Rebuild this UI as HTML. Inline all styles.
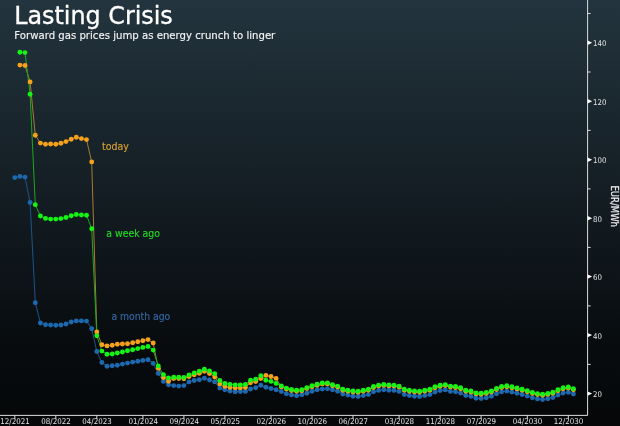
<!DOCTYPE html>
<html><head><meta charset="utf-8"><title>Lasting Crisis</title>
<style>
html,body{margin:0;padding:0;background:#0a0a0d;}
body{width:620px;height:426px;overflow:hidden;position:relative;font-family:"DejaVu Sans Condensed","DejaVu Sans","Liberation Sans",sans-serif;}
#chart{position:absolute;left:0;top:0;width:620px;height:426px;background:linear-gradient(180deg,#23343e 0%,#080c0f 80%,#050708 100%);}
h1{position:absolute;left:14px;top:0px;margin:0;font-weight:normal;font-family:"DejaVu Sans","Liberation Sans",sans-serif;font-size:23.5px;line-height:32px;color:#fff;white-space:nowrap;}
p.sub{position:absolute;left:14px;top:28px;margin:0;font-family:"DejaVu Sans","Liberation Sans",sans-serif;font-size:10.15px;line-height:14px;color:#e8e8e8;white-space:nowrap;}
svg{position:absolute;left:0;top:0;}
.tk{font-size:7.8px;fill:#e4e4e4;}
.tx{font-size:7.9px;fill:#e4e4e4;}
.lb{font-size:10.5px;}
</style></head><body>
<div id="chart">
<svg width="620" height="426" viewBox="0 0 620 426" font-family="'DejaVu Sans Condensed','DejaVu Sans','Liberation Sans',sans-serif">
<defs><filter id="soft" x="-5%" y="-5%" width="110%" height="110%"><feGaussianBlur stdDeviation="0.35"/></filter></defs><g filter="url(#soft)"><polyline points="14.8,177.6 19.9,176.4 25.0,177.1 30.1,202.5 35.3,302.8 40.4,323.0 45.5,324.7 50.6,325.0 55.8,325.3 60.9,325.0 66.0,324.0 71.2,322.0 76.3,320.9 81.4,320.9 86.5,321.1 91.7,328.7 96.8,351.5 101.9,362.5 107.0,366.3 112.2,365.8 117.3,365.2 122.4,364.1 127.5,363.1 132.7,362.1 137.8,361.3 142.9,360.4 148.0,359.7 153.2,363.4 158.3,373.4 163.4,381.4 168.5,384.8 173.7,385.6 178.8,386.1 183.9,385.6 189.0,381.9 194.2,380.5 199.3,379.7 204.4,378.2 209.5,380.0 214.7,381.9 219.8,388.1 224.9,389.8 230.0,391.0 235.2,391.7 240.3,391.5 245.4,391.4 250.5,389.0 255.7,387.8 260.8,385.3 265.9,387.3 271.0,388.5 276.1,389.8 281.3,391.5 286.4,393.7 291.5,394.9 296.6,395.8 301.8,394.7 306.9,393.2 312.0,391.2 317.1,389.8 322.3,389.0 327.4,388.7 332.5,389.8 337.6,391.2 342.8,394.1 347.9,395.1 353.0,396.3 358.1,396.5 363.3,395.6 368.4,394.6 373.5,391.8 378.6,390.4 383.8,389.7 388.9,390.2 394.0,390.4 399.1,391.4 404.3,394.6 409.4,395.5 414.5,396.2 419.6,396.5 424.8,395.6 429.9,394.6 435.0,392.1 440.1,390.5 445.3,389.9 450.4,391.4 455.5,391.8 460.6,393.1 465.8,395.5 470.9,396.3 476.0,398.2 481.1,398.5 486.3,397.7 491.4,396.3 496.5,393.8 501.6,391.8 506.8,391.1 511.9,392.1 517.0,393.2 522.1,394.5 527.3,396.1 532.4,397.7 537.5,398.9 542.6,399.5 547.8,398.7 552.9,397.5 558.0,395.1 563.1,393.1 568.3,392.3 573.4,394.0" fill="none" stroke="#1e5388" stroke-width="1"/>
<polyline points="19.9,65.1 25.0,65.5 30.1,81.9 35.3,135.2 40.4,143.1 45.5,144.3 50.6,144.0 55.8,144.3 60.9,143.3 66.0,141.6 71.2,139.3 76.3,137.2 81.4,138.6 86.5,139.6 91.7,161.9 96.8,332.0 101.9,344.7 107.0,345.9 112.2,345.2 117.3,344.3 122.4,344.0 127.5,343.8 132.7,342.8 137.8,341.8 142.9,340.8 148.0,339.6 153.2,343.0 158.3,368.3 163.4,377.6 168.5,381.3 173.7,378.5 178.8,378.5 183.9,378.7 189.0,376.5 194.2,374.7 199.3,373.2 204.4,371.2 209.5,373.6 214.7,377.0 219.8,383.9 224.9,386.4 230.0,387.4 235.2,387.9 240.3,387.9 245.4,387.5 250.5,382.7 255.7,381.5 260.8,378.6 265.9,375.4 271.0,376.5 276.1,378.4 281.3,386.9 286.4,389.1 291.5,390.5 296.6,391.3 301.8,390.7 306.9,388.6 312.0,386.8 317.1,385.3 322.3,383.9 327.4,383.9 332.5,385.8 337.6,387.1 342.8,390.3 347.9,391.2 353.0,392.0 358.1,392.2 363.3,391.3 368.4,390.3 373.5,387.5 378.6,386.1 383.8,385.4 388.9,385.9 394.0,386.1 399.1,387.1 404.3,390.3 409.4,391.2 414.5,391.9 419.6,392.2 424.8,391.3 429.9,390.3 435.0,387.8 440.1,386.2 445.3,385.6 450.4,387.1 455.5,387.5 460.6,388.8 465.8,391.2 470.9,392.0 476.0,393.9 481.1,394.2 486.3,393.4 491.4,392.0 496.5,389.5 501.6,387.5 506.8,386.8 511.9,387.8 517.0,388.9 522.1,390.2 527.3,391.8 532.4,393.4 537.5,394.6 542.6,395.2 547.8,394.4 552.9,393.2 558.0,390.8 563.1,388.8 568.3,388.0 573.4,389.7" fill="none" stroke="#a87a34" stroke-width="1"/>
<polyline points="19.9,52.3 25.0,52.6 30.1,94.2 35.3,204.7 40.4,216.0 45.5,218.4 50.6,219.1 55.8,219.1 60.9,218.6 66.0,217.5 71.2,215.7 76.3,214.5 81.4,215.0 86.5,215.2 91.7,228.7 96.8,335.7 101.9,351.1 107.0,354.3 112.2,354.0 117.3,353.0 122.4,352.0 127.5,350.8 132.7,349.8 137.8,348.6 142.9,347.4 148.0,346.5 153.2,350.1 158.3,366.0 163.4,374.6 168.5,378.0 173.7,377.3 178.8,377.3 183.9,377.5 189.0,374.9 194.2,372.9 199.3,371.2 204.4,369.2 209.5,370.9 214.7,373.8 219.8,380.5 224.9,383.4 230.0,384.4 235.2,384.9 240.3,384.9 245.4,384.4 250.5,380.2 255.7,379.3 260.8,375.8 265.9,380.2 271.0,381.4 276.1,383.4 281.3,385.9 286.4,388.1 291.5,389.5 296.6,390.3 301.8,389.7 306.9,387.6 312.0,385.8 317.1,384.3 322.3,382.9 327.4,382.9 332.5,384.8 337.6,386.1 342.8,389.3 347.9,390.2 353.0,391.0 358.1,391.2 363.3,390.3 368.4,389.3 373.5,386.5 378.6,385.1 383.8,384.4 388.9,384.9 394.0,385.1 399.1,386.1 404.3,389.3 409.4,390.2 414.5,390.9 419.6,391.2 424.8,390.3 429.9,389.3 435.0,386.8 440.1,385.2 445.3,384.6 450.4,386.1 455.5,386.5 460.6,387.8 465.8,390.2 470.9,391.0 476.0,392.9 481.1,393.2 486.3,392.4 491.4,391.0 496.5,388.5 501.6,386.5 506.8,385.8 511.9,386.8 517.0,387.9 522.1,389.2 527.3,390.8 532.4,392.4 537.5,393.6 542.6,394.2 547.8,393.4 552.9,392.2 558.0,389.8 563.1,387.8 568.3,387.0 573.4,388.7" fill="none" stroke="#1ea81e" stroke-width="1"/>
<g fill="#1b69b0"><circle cx="14.8" cy="177.6" r="2.45"/><circle cx="19.9" cy="176.4" r="2.45"/><circle cx="25.0" cy="177.1" r="2.45"/><circle cx="30.1" cy="202.5" r="2.45"/><circle cx="35.3" cy="302.8" r="2.45"/><circle cx="40.4" cy="323.0" r="2.45"/><circle cx="45.5" cy="324.7" r="2.45"/><circle cx="50.6" cy="325.0" r="2.45"/><circle cx="55.8" cy="325.3" r="2.45"/><circle cx="60.9" cy="325.0" r="2.45"/><circle cx="66.0" cy="324.0" r="2.45"/><circle cx="71.2" cy="322.0" r="2.45"/><circle cx="76.3" cy="320.9" r="2.45"/><circle cx="81.4" cy="320.9" r="2.45"/><circle cx="86.5" cy="321.1" r="2.45"/><circle cx="91.7" cy="328.7" r="2.45"/><circle cx="96.8" cy="351.5" r="2.45"/><circle cx="101.9" cy="362.5" r="2.45"/><circle cx="107.0" cy="366.3" r="2.45"/><circle cx="112.2" cy="365.8" r="2.45"/><circle cx="117.3" cy="365.2" r="2.45"/><circle cx="122.4" cy="364.1" r="2.45"/><circle cx="127.5" cy="363.1" r="2.45"/><circle cx="132.7" cy="362.1" r="2.45"/><circle cx="137.8" cy="361.3" r="2.45"/><circle cx="142.9" cy="360.4" r="2.45"/><circle cx="148.0" cy="359.7" r="2.45"/><circle cx="153.2" cy="363.4" r="2.45"/><circle cx="158.3" cy="373.4" r="2.45"/><circle cx="163.4" cy="381.4" r="2.45"/><circle cx="168.5" cy="384.8" r="2.45"/><circle cx="173.7" cy="385.6" r="2.45"/><circle cx="178.8" cy="386.1" r="2.45"/><circle cx="183.9" cy="385.6" r="2.45"/><circle cx="189.0" cy="381.9" r="2.45"/><circle cx="194.2" cy="380.5" r="2.45"/><circle cx="199.3" cy="379.7" r="2.45"/><circle cx="204.4" cy="378.2" r="2.45"/><circle cx="209.5" cy="380.0" r="2.45"/><circle cx="214.7" cy="381.9" r="2.45"/><circle cx="219.8" cy="388.1" r="2.45"/><circle cx="224.9" cy="389.8" r="2.45"/><circle cx="230.0" cy="391.0" r="2.45"/><circle cx="235.2" cy="391.7" r="2.45"/><circle cx="240.3" cy="391.5" r="2.45"/><circle cx="245.4" cy="391.4" r="2.45"/><circle cx="250.5" cy="389.0" r="2.45"/><circle cx="255.7" cy="387.8" r="2.45"/><circle cx="260.8" cy="385.3" r="2.45"/><circle cx="265.9" cy="387.3" r="2.45"/><circle cx="271.0" cy="388.5" r="2.45"/><circle cx="276.1" cy="389.8" r="2.45"/><circle cx="281.3" cy="391.5" r="2.45"/><circle cx="286.4" cy="393.7" r="2.45"/><circle cx="291.5" cy="394.9" r="2.45"/><circle cx="296.6" cy="395.8" r="2.45"/><circle cx="301.8" cy="394.7" r="2.45"/><circle cx="306.9" cy="393.2" r="2.45"/><circle cx="312.0" cy="391.2" r="2.45"/><circle cx="317.1" cy="389.8" r="2.45"/><circle cx="322.3" cy="389.0" r="2.45"/><circle cx="327.4" cy="388.7" r="2.45"/><circle cx="332.5" cy="389.8" r="2.45"/><circle cx="337.6" cy="391.2" r="2.45"/><circle cx="342.8" cy="394.1" r="2.45"/><circle cx="347.9" cy="395.1" r="2.45"/><circle cx="353.0" cy="396.3" r="2.45"/><circle cx="358.1" cy="396.5" r="2.45"/><circle cx="363.3" cy="395.6" r="2.45"/><circle cx="368.4" cy="394.6" r="2.45"/><circle cx="373.5" cy="391.8" r="2.45"/><circle cx="378.6" cy="390.4" r="2.45"/><circle cx="383.8" cy="389.7" r="2.45"/><circle cx="388.9" cy="390.2" r="2.45"/><circle cx="394.0" cy="390.4" r="2.45"/><circle cx="399.1" cy="391.4" r="2.45"/><circle cx="404.3" cy="394.6" r="2.45"/><circle cx="409.4" cy="395.5" r="2.45"/><circle cx="414.5" cy="396.2" r="2.45"/><circle cx="419.6" cy="396.5" r="2.45"/><circle cx="424.8" cy="395.6" r="2.45"/><circle cx="429.9" cy="394.6" r="2.45"/><circle cx="435.0" cy="392.1" r="2.45"/><circle cx="440.1" cy="390.5" r="2.45"/><circle cx="445.3" cy="389.9" r="2.45"/><circle cx="450.4" cy="391.4" r="2.45"/><circle cx="455.5" cy="391.8" r="2.45"/><circle cx="460.6" cy="393.1" r="2.45"/><circle cx="465.8" cy="395.5" r="2.45"/><circle cx="470.9" cy="396.3" r="2.45"/><circle cx="476.0" cy="398.2" r="2.45"/><circle cx="481.1" cy="398.5" r="2.45"/><circle cx="486.3" cy="397.7" r="2.45"/><circle cx="491.4" cy="396.3" r="2.45"/><circle cx="496.5" cy="393.8" r="2.45"/><circle cx="501.6" cy="391.8" r="2.45"/><circle cx="506.8" cy="391.1" r="2.45"/><circle cx="511.9" cy="392.1" r="2.45"/><circle cx="517.0" cy="393.2" r="2.45"/><circle cx="522.1" cy="394.5" r="2.45"/><circle cx="527.3" cy="396.1" r="2.45"/><circle cx="532.4" cy="397.7" r="2.45"/><circle cx="537.5" cy="398.9" r="2.45"/><circle cx="542.6" cy="399.5" r="2.45"/><circle cx="547.8" cy="398.7" r="2.45"/><circle cx="552.9" cy="397.5" r="2.45"/><circle cx="558.0" cy="395.1" r="2.45"/><circle cx="563.1" cy="393.1" r="2.45"/><circle cx="568.3" cy="392.3" r="2.45"/><circle cx="573.4" cy="394.0" r="2.45"/></g>
<g fill="#f7a11a"><circle cx="19.9" cy="65.1" r="2.45"/><circle cx="25.0" cy="65.5" r="2.45"/><circle cx="30.1" cy="81.9" r="2.45"/><circle cx="35.3" cy="135.2" r="2.45"/><circle cx="40.4" cy="143.1" r="2.45"/><circle cx="45.5" cy="144.3" r="2.45"/><circle cx="50.6" cy="144.0" r="2.45"/><circle cx="55.8" cy="144.3" r="2.45"/><circle cx="60.9" cy="143.3" r="2.45"/><circle cx="66.0" cy="141.6" r="2.45"/><circle cx="71.2" cy="139.3" r="2.45"/><circle cx="76.3" cy="137.2" r="2.45"/><circle cx="81.4" cy="138.6" r="2.45"/><circle cx="86.5" cy="139.6" r="2.45"/><circle cx="91.7" cy="161.9" r="2.45"/><circle cx="96.8" cy="332.0" r="2.45"/><circle cx="101.9" cy="344.7" r="2.45"/><circle cx="107.0" cy="345.9" r="2.45"/><circle cx="112.2" cy="345.2" r="2.45"/><circle cx="117.3" cy="344.3" r="2.45"/><circle cx="122.4" cy="344.0" r="2.45"/><circle cx="127.5" cy="343.8" r="2.45"/><circle cx="132.7" cy="342.8" r="2.45"/><circle cx="137.8" cy="341.8" r="2.45"/><circle cx="142.9" cy="340.8" r="2.45"/><circle cx="148.0" cy="339.6" r="2.45"/><circle cx="153.2" cy="343.0" r="2.45"/><circle cx="158.3" cy="368.3" r="2.45"/><circle cx="163.4" cy="377.6" r="2.45"/><circle cx="168.5" cy="381.3" r="2.45"/><circle cx="173.7" cy="378.5" r="2.45"/><circle cx="178.8" cy="378.5" r="2.45"/><circle cx="183.9" cy="378.7" r="2.45"/><circle cx="189.0" cy="376.5" r="2.45"/><circle cx="194.2" cy="374.7" r="2.45"/><circle cx="199.3" cy="373.2" r="2.45"/><circle cx="204.4" cy="371.2" r="2.45"/><circle cx="209.5" cy="373.6" r="2.45"/><circle cx="214.7" cy="377.0" r="2.45"/><circle cx="219.8" cy="383.9" r="2.45"/><circle cx="224.9" cy="386.4" r="2.45"/><circle cx="230.0" cy="387.4" r="2.45"/><circle cx="235.2" cy="387.9" r="2.45"/><circle cx="240.3" cy="387.9" r="2.45"/><circle cx="245.4" cy="387.5" r="2.45"/><circle cx="250.5" cy="382.7" r="2.45"/><circle cx="255.7" cy="381.5" r="2.45"/><circle cx="260.8" cy="378.6" r="2.45"/><circle cx="265.9" cy="375.4" r="2.45"/><circle cx="271.0" cy="376.5" r="2.45"/><circle cx="276.1" cy="378.4" r="2.45"/><circle cx="281.3" cy="386.9" r="2.45"/><circle cx="286.4" cy="389.1" r="2.45"/><circle cx="291.5" cy="390.5" r="2.45"/><circle cx="296.6" cy="391.3" r="2.45"/><circle cx="301.8" cy="390.7" r="2.45"/><circle cx="306.9" cy="388.6" r="2.45"/><circle cx="312.0" cy="386.8" r="2.45"/><circle cx="317.1" cy="385.3" r="2.45"/><circle cx="322.3" cy="383.9" r="2.45"/><circle cx="327.4" cy="383.9" r="2.45"/><circle cx="332.5" cy="385.8" r="2.45"/><circle cx="337.6" cy="387.1" r="2.45"/><circle cx="342.8" cy="390.3" r="2.45"/><circle cx="347.9" cy="391.2" r="2.45"/><circle cx="353.0" cy="392.0" r="2.45"/><circle cx="358.1" cy="392.2" r="2.45"/><circle cx="363.3" cy="391.3" r="2.45"/><circle cx="368.4" cy="390.3" r="2.45"/><circle cx="373.5" cy="387.5" r="2.45"/><circle cx="378.6" cy="386.1" r="2.45"/><circle cx="383.8" cy="385.4" r="2.45"/><circle cx="388.9" cy="385.9" r="2.45"/><circle cx="394.0" cy="386.1" r="2.45"/><circle cx="399.1" cy="387.1" r="2.45"/><circle cx="404.3" cy="390.3" r="2.45"/><circle cx="409.4" cy="391.2" r="2.45"/><circle cx="414.5" cy="391.9" r="2.45"/><circle cx="419.6" cy="392.2" r="2.45"/><circle cx="424.8" cy="391.3" r="2.45"/><circle cx="429.9" cy="390.3" r="2.45"/><circle cx="435.0" cy="387.8" r="2.45"/><circle cx="440.1" cy="386.2" r="2.45"/><circle cx="445.3" cy="385.6" r="2.45"/><circle cx="450.4" cy="387.1" r="2.45"/><circle cx="455.5" cy="387.5" r="2.45"/><circle cx="460.6" cy="388.8" r="2.45"/><circle cx="465.8" cy="391.2" r="2.45"/><circle cx="470.9" cy="392.0" r="2.45"/><circle cx="476.0" cy="393.9" r="2.45"/><circle cx="481.1" cy="394.2" r="2.45"/><circle cx="486.3" cy="393.4" r="2.45"/><circle cx="491.4" cy="392.0" r="2.45"/><circle cx="496.5" cy="389.5" r="2.45"/><circle cx="501.6" cy="387.5" r="2.45"/><circle cx="506.8" cy="386.8" r="2.45"/><circle cx="511.9" cy="387.8" r="2.45"/><circle cx="517.0" cy="388.9" r="2.45"/><circle cx="522.1" cy="390.2" r="2.45"/><circle cx="527.3" cy="391.8" r="2.45"/><circle cx="532.4" cy="393.4" r="2.45"/><circle cx="537.5" cy="394.6" r="2.45"/><circle cx="542.6" cy="395.2" r="2.45"/><circle cx="547.8" cy="394.4" r="2.45"/><circle cx="552.9" cy="393.2" r="2.45"/><circle cx="558.0" cy="390.8" r="2.45"/><circle cx="563.1" cy="388.8" r="2.45"/><circle cx="568.3" cy="388.0" r="2.45"/><circle cx="573.4" cy="389.7" r="2.45"/></g>
<g fill="#12f312"><circle cx="19.9" cy="52.3" r="2.45"/><circle cx="25.0" cy="52.6" r="2.45"/><circle cx="30.1" cy="94.2" r="2.45"/><circle cx="35.3" cy="204.7" r="2.45"/><circle cx="40.4" cy="216.0" r="2.45"/><circle cx="45.5" cy="218.4" r="2.45"/><circle cx="50.6" cy="219.1" r="2.45"/><circle cx="55.8" cy="219.1" r="2.45"/><circle cx="60.9" cy="218.6" r="2.45"/><circle cx="66.0" cy="217.5" r="2.45"/><circle cx="71.2" cy="215.7" r="2.45"/><circle cx="76.3" cy="214.5" r="2.45"/><circle cx="81.4" cy="215.0" r="2.45"/><circle cx="86.5" cy="215.2" r="2.45"/><circle cx="91.7" cy="228.7" r="2.45"/><circle cx="96.8" cy="335.7" r="2.45"/><circle cx="101.9" cy="351.1" r="2.45"/><circle cx="107.0" cy="354.3" r="2.45"/><circle cx="112.2" cy="354.0" r="2.45"/><circle cx="117.3" cy="353.0" r="2.45"/><circle cx="122.4" cy="352.0" r="2.45"/><circle cx="127.5" cy="350.8" r="2.45"/><circle cx="132.7" cy="349.8" r="2.45"/><circle cx="137.8" cy="348.6" r="2.45"/><circle cx="142.9" cy="347.4" r="2.45"/><circle cx="148.0" cy="346.5" r="2.45"/><circle cx="153.2" cy="350.1" r="2.45"/><circle cx="158.3" cy="366.0" r="2.45"/><circle cx="163.4" cy="374.6" r="2.45"/><circle cx="168.5" cy="378.0" r="2.45"/><circle cx="173.7" cy="377.3" r="2.45"/><circle cx="178.8" cy="377.3" r="2.45"/><circle cx="183.9" cy="377.5" r="2.45"/><circle cx="189.0" cy="374.9" r="2.45"/><circle cx="194.2" cy="372.9" r="2.45"/><circle cx="199.3" cy="371.2" r="2.45"/><circle cx="204.4" cy="369.2" r="2.45"/><circle cx="209.5" cy="370.9" r="2.45"/><circle cx="214.7" cy="373.8" r="2.45"/><circle cx="219.8" cy="380.5" r="2.45"/><circle cx="224.9" cy="383.4" r="2.45"/><circle cx="230.0" cy="384.4" r="2.45"/><circle cx="235.2" cy="384.9" r="2.45"/><circle cx="240.3" cy="384.9" r="2.45"/><circle cx="245.4" cy="384.4" r="2.45"/><circle cx="250.5" cy="380.2" r="2.45"/><circle cx="255.7" cy="379.3" r="2.45"/><circle cx="260.8" cy="375.8" r="2.45"/><circle cx="265.9" cy="380.2" r="2.45"/><circle cx="271.0" cy="381.4" r="2.45"/><circle cx="276.1" cy="383.4" r="2.45"/><circle cx="281.3" cy="385.9" r="2.45"/><circle cx="286.4" cy="388.1" r="2.45"/><circle cx="291.5" cy="389.5" r="2.45"/><circle cx="296.6" cy="390.3" r="2.45"/><circle cx="301.8" cy="389.7" r="2.45"/><circle cx="306.9" cy="387.6" r="2.45"/><circle cx="312.0" cy="385.8" r="2.45"/><circle cx="317.1" cy="384.3" r="2.45"/><circle cx="322.3" cy="382.9" r="2.45"/><circle cx="327.4" cy="382.9" r="2.45"/><circle cx="332.5" cy="384.8" r="2.45"/><circle cx="337.6" cy="386.1" r="2.45"/><circle cx="342.8" cy="389.3" r="2.45"/><circle cx="347.9" cy="390.2" r="2.45"/><circle cx="353.0" cy="391.0" r="2.45"/><circle cx="358.1" cy="391.2" r="2.45"/><circle cx="363.3" cy="390.3" r="2.45"/><circle cx="368.4" cy="389.3" r="2.45"/><circle cx="373.5" cy="386.5" r="2.45"/><circle cx="378.6" cy="385.1" r="2.45"/><circle cx="383.8" cy="384.4" r="2.45"/><circle cx="388.9" cy="384.9" r="2.45"/><circle cx="394.0" cy="385.1" r="2.45"/><circle cx="399.1" cy="386.1" r="2.45"/><circle cx="404.3" cy="389.3" r="2.45"/><circle cx="409.4" cy="390.2" r="2.45"/><circle cx="414.5" cy="390.9" r="2.45"/><circle cx="419.6" cy="391.2" r="2.45"/><circle cx="424.8" cy="390.3" r="2.45"/><circle cx="429.9" cy="389.3" r="2.45"/><circle cx="435.0" cy="386.8" r="2.45"/><circle cx="440.1" cy="385.2" r="2.45"/><circle cx="445.3" cy="384.6" r="2.45"/><circle cx="450.4" cy="386.1" r="2.45"/><circle cx="455.5" cy="386.5" r="2.45"/><circle cx="460.6" cy="387.8" r="2.45"/><circle cx="465.8" cy="390.2" r="2.45"/><circle cx="470.9" cy="391.0" r="2.45"/><circle cx="476.0" cy="392.9" r="2.45"/><circle cx="481.1" cy="393.2" r="2.45"/><circle cx="486.3" cy="392.4" r="2.45"/><circle cx="491.4" cy="391.0" r="2.45"/><circle cx="496.5" cy="388.5" r="2.45"/><circle cx="501.6" cy="386.5" r="2.45"/><circle cx="506.8" cy="385.8" r="2.45"/><circle cx="511.9" cy="386.8" r="2.45"/><circle cx="517.0" cy="387.9" r="2.45"/><circle cx="522.1" cy="389.2" r="2.45"/><circle cx="527.3" cy="390.8" r="2.45"/><circle cx="532.4" cy="392.4" r="2.45"/><circle cx="537.5" cy="393.6" r="2.45"/><circle cx="542.6" cy="394.2" r="2.45"/><circle cx="547.8" cy="393.4" r="2.45"/><circle cx="552.9" cy="392.2" r="2.45"/><circle cx="558.0" cy="389.8" r="2.45"/><circle cx="563.1" cy="387.8" r="2.45"/><circle cx="568.3" cy="387.0" r="2.45"/><circle cx="573.4" cy="388.7" r="2.45"/></g>
</g><path d="M587.6 0V415.4H0" fill="none" stroke="#dcdcdc" stroke-width="1"/>
<path d="M587.6 391.4L592.1 393.6L587.6 395.8Z" fill="#fff"/><text x="593.1" y="397.0" class="tk">20</text>
<path d="M587.6 332.9L592.1 335.1L587.6 337.3Z" fill="#fff"/><text x="593.1" y="338.5" class="tk">40</text>
<path d="M587.6 274.4L592.1 276.6L587.6 278.8Z" fill="#fff"/><text x="593.1" y="280.0" class="tk">60</text>
<path d="M587.6 216.0L592.1 218.2L587.6 220.4Z" fill="#fff"/><text x="593.1" y="221.6" class="tk">80</text>
<path d="M587.6 157.5L592.1 159.7L587.6 161.9Z" fill="#fff"/><text x="593.1" y="163.1" class="tk">100</text>
<path d="M587.6 99.0L592.1 101.2L587.6 103.4Z" fill="#fff"/><text x="593.1" y="104.6" class="tk">120</text>
<path d="M587.6 40.5L592.1 42.7L587.6 44.9Z" fill="#fff"/><text x="593.1" y="46.1" class="tk">140</text>
<path d="M587.6 364.4h3" stroke="#ddd" stroke-width="1"/><path d="M587.6 305.9h3" stroke="#ddd" stroke-width="1"/><path d="M587.6 247.4h3" stroke="#ddd" stroke-width="1"/><path d="M587.6 188.9h3" stroke="#ddd" stroke-width="1"/><path d="M587.6 130.4h3" stroke="#ddd" stroke-width="1"/><path d="M587.6 72.0h3" stroke="#ddd" stroke-width="1"/><path d="M587.6 13.5h3" stroke="#ddd" stroke-width="1"/><path d="M14.8 415.4v3.5" stroke="#ddd" stroke-width="1"/><text x="15.1" y="424.2" class="tx" text-anchor="middle">12/2021</text>
<path d="M55.8 415.4v3.5" stroke="#ddd" stroke-width="1"/><text x="56.1" y="424.2" class="tx" text-anchor="middle">08/2022</text>
<path d="M96.8 415.4v3.5" stroke="#ddd" stroke-width="1"/><text x="97.1" y="424.2" class="tx" text-anchor="middle">04/2023</text>
<path d="M142.9 415.4v3.5" stroke="#ddd" stroke-width="1"/><text x="143.2" y="424.2" class="tx" text-anchor="middle">01/2024</text>
<path d="M183.9 415.4v3.5" stroke="#ddd" stroke-width="1"/><text x="184.2" y="424.2" class="tx" text-anchor="middle">09/2024</text>
<path d="M224.9 415.4v3.5" stroke="#ddd" stroke-width="1"/><text x="225.2" y="424.2" class="tx" text-anchor="middle">05/2025</text>
<path d="M271.0 415.4v3.5" stroke="#ddd" stroke-width="1"/><text x="271.3" y="424.2" class="tx" text-anchor="middle">02/2026</text>
<path d="M312.0 415.4v3.5" stroke="#ddd" stroke-width="1"/><text x="312.3" y="424.2" class="tx" text-anchor="middle">10/2026</text>
<path d="M353.0 415.4v3.5" stroke="#ddd" stroke-width="1"/><text x="353.3" y="424.2" class="tx" text-anchor="middle">06/2027</text>
<path d="M399.1 415.4v3.5" stroke="#ddd" stroke-width="1"/><text x="399.4" y="424.2" class="tx" text-anchor="middle">03/2028</text>
<path d="M440.1 415.4v3.5" stroke="#ddd" stroke-width="1"/><text x="440.4" y="424.2" class="tx" text-anchor="middle">11/2028</text>
<path d="M481.1 415.4v3.5" stroke="#ddd" stroke-width="1"/><text x="481.4" y="424.2" class="tx" text-anchor="middle">07/2029</text>
<path d="M527.3 415.4v3.5" stroke="#ddd" stroke-width="1"/><text x="527.6" y="424.2" class="tx" text-anchor="middle">04/2030</text>
<path d="M568.3 415.4v3.5" stroke="#ddd" stroke-width="1"/><text x="568.6" y="424.2" class="tx" text-anchor="middle">12/2030</text>

<text x="14.2" y="23.8" font-size="25.5" fill="#fff" stroke="#fff" stroke-width="0.3" textLength="158.6" lengthAdjust="spacingAndGlyphs">Lasting Crisis</text>
<text x="14.3" y="38.9" font-size="10.15" fill="#f2f2f2" stroke="#f2f2f2" stroke-width="0.15" font-family="'DejaVu Sans','Liberation Sans',sans-serif" textLength="261.0" lengthAdjust="spacingAndGlyphs">Forward gas prices jump as energy crunch to linger</text>
<text x="102" y="149.6" class="lb" fill="#d8a032" stroke="#d8a032" stroke-width="0.15" textLength="26.9" lengthAdjust="spacingAndGlyphs">today</text>
<text x="106.3" y="236.9" class="lb" fill="#22d822" stroke="#22d822" stroke-width="0.15" textLength="53.6" lengthAdjust="spacingAndGlyphs">a week ago</text>
<text x="111.4" y="320.3" class="lb" fill="#3566a2" stroke="#3566a2" stroke-width="0.15" textLength="58.9" lengthAdjust="spacingAndGlyphs">a month ago</text>
<text transform="translate(610.5 185.4) rotate(90)" font-size="9.6" textLength="41.6" lengthAdjust="spacingAndGlyphs" fill="#ececec" stroke="#ececec" stroke-width="0.2">EUR/MWh</text>
</svg>

</div>
</body></html>
